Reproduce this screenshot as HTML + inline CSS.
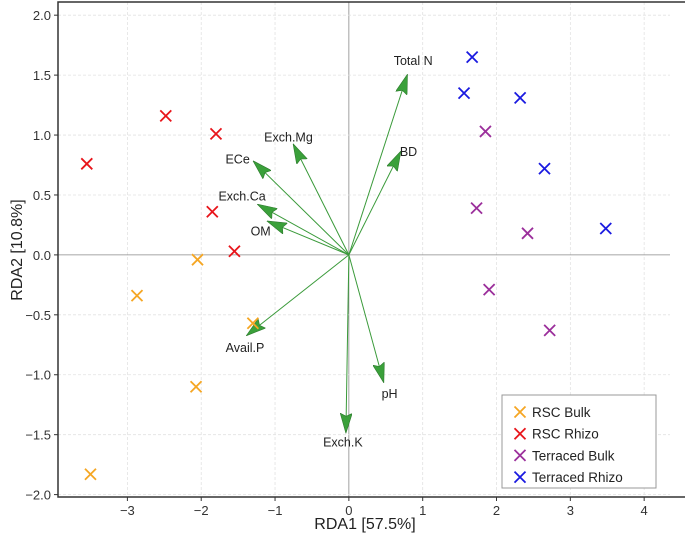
<!DOCTYPE html>
<html><head><meta charset="utf-8"><style>
body{margin:0;background:#fff}
svg{display:block;font-family:"Liberation Sans","DejaVu Sans",sans-serif}
</style></head><body>
<svg id="chart" width="685" height="540" viewBox="0 0 685 540" xmlns="http://www.w3.org/2000/svg">
<defs><marker id="ah" markerWidth="20" markerHeight="12" refX="19" refY="6" orient="auto" markerUnits="userSpaceOnUse"><path d="M0,0 L20,6 L0,12 L3,6 Z" fill="#3aa03a" stroke="#2d7a2d" stroke-width="0.6"/></marker></defs>
<g id="grid"></g>
<g id="axes"></g>
<g id="arrows"></g>
<g id="pts"></g>
<text x="365" y="529" font-size="16" text-anchor="middle" fill="#222">RDA1 [57.5%]</text>
<text transform="translate(22,250) rotate(-90)" font-size="16" text-anchor="middle" fill="#222">RDA2 [10.8%]</text>
<g>
<rect x="502" y="395" width="154" height="93" fill="#fff" stroke="#999" stroke-width="1"/>
</g>
<g id="legend-items"></g>
</svg>
<script>
const xTicks=[-3,-2,-1,0,1,2,3,4];
const yTicks=[-2.0,-1.5,-1.0,-0.5,0.0,0.5,1.0,1.5,2.0];
const groups=["RSC Bulk","RSC Rhizo","Terraced Bulk","Terraced Rhizo"];
const colors=["#f5a623","#e8141a","#9b2f9b","#1a1ae0"];
const rscBulkX=[-2.05,-2.87,-1.3,-2.07,-3.5], rscBulkY=[-0.04,-0.34,-0.57,-1.1,-1.83];
const rscRhizoX=[-3.55,-2.48,-1.8,-1.85,-1.55], rscRhizoY=[0.76,1.16,1.01,0.36,0.03];
const terBulkX=[1.85,1.73,2.42,1.9,2.72], terBulkY=[1.03,0.39,0.18,-0.29,-0.63];
const terRhizoX=[1.67,1.56,2.32,2.65,3.48], terRhizoY=[1.65,1.35,1.31,0.72,0.22];
const vecNames=["Total N","BD","Exch.Mg","ECe","Exch.Ca","OM","Avail.P","pH","Exch.K"];
const vecX=[0.79,0.7,-0.75,-1.29,-1.23,-1.1,-1.38,0.47,-0.04];
const vecY=[1.5,0.86,0.92,0.78,0.42,0.28,-0.67,-1.06,-1.48];
const labDx=[6,8,-5,-16,-16,-7,-2,6,-3], labDy=[-15,-1,-8,-3,-9,9,12,11,9];

const X0=58,X1=670,Y0=2,Y1=497,xmin=-3.94,xmax=4.35,ymin=-2.02,ymax=2.11;
const sx=v=>X0+(v-xmin)/(xmax-xmin)*(X1-X0);
const sy=v=>Y1-(v-ymin)/(ymax-ymin)*(Y1-Y0);
const NS="http://www.w3.org/2000/svg";
function mk(tag,attrs,parent,txt){const e=document.createElementNS(NS,tag);for(const k in attrs)e.setAttribute(k,attrs[k]);if(txt!==undefined)e.textContent=txt;parent.appendChild(e);return e;}
const grid=document.getElementById('grid'),axes=document.getElementById('axes');
xTicks.forEach(t=>{
 const l=mk('line',{x1:sx(t),x2:sx(t),y1:Y0,y2:Y1,stroke:t===0?'#888':'#e2e2e2','stroke-width':0.8,'stroke-dasharray':t===0?'':'3,2'},grid);
 
 
 mk('line',{x1:sx(t),x2:sx(t),y1:Y1,y2:Y1+4,stroke:'#333'},axes);
 const tx=mk('text',{x:sx(t),y:Y1+18,'font-size':13,'text-anchor':'middle',fill:'#333'},axes,t<0?'\u2212'+(-t):String(t));
 
 
});
yTicks.forEach(t=>{
 const l=mk('line',{x1:X0,x2:X1,y1:sy(t),y2:sy(t),stroke:t===0?'#888':'#e2e2e2','stroke-width':0.8,'stroke-dasharray':t===0?'':'3,2'},grid);
 
 
 mk('line',{x1:X0-4,x2:X0,y1:sy(t),y2:sy(t),stroke:'#333'},axes);
 const s=t.toFixed(1);
 const tx=mk('text',{x:X0-7,y:sy(t)+5,'font-size':13,'text-anchor':'end',fill:'#333'},axes,t<0?'\u2212'+s.slice(1):s);
 
 
});
mk('rect',{x:X0,y:Y0,width:X1-X0+20,height:Y1-Y0,fill:'none',stroke:'#333','stroke-width':1.5},axes);
const ar=document.getElementById('arrows');
vecNames.forEach((n,i)=>{
 const a=mk('line',{x1:sx(0),y1:sy(0),x2:sx(vecX[i]),y2:sy(vecY[i]),stroke:'#3a9a3a','stroke-width':1,'marker-end':'url(#ah)'},ar);
 
 
 const t=mk('text',{x:sx(vecX[i])+labDx[i],y:sy(vecY[i])+labDy[i]+5,'font-size':12.5,'text-anchor':'middle',fill:'#222'},ar,n);
 
 
});
const pts=document.getElementById('pts');
const sets=[[rscBulkX,rscBulkY],[rscRhizoX,rscRhizoY],[terBulkX,terBulkY],[terRhizoX,terRhizoY]];
function cross(cx,cy,c,p){const d=5.5;mk('path',{d:`M${cx-d},${cy-d}L${cx+d},${cy+d}M${cx-d},${cy+d}L${cx+d},${cy-d}`,stroke:c,'stroke-width':1.8,fill:'none'},p);}
sets.forEach((s,g)=>{s[0].forEach((x,i)=>{
 const m=mk('g',{},pts);
 
 
 cross(sx(x),sy(s[1][i]),colors[g],m);
});});
const lg=document.getElementById('legend-items');
groups.forEach((n,i)=>{
 const y=412+i*21.7;
 const e=mk('g',{},lg);
 
 
 cross(520,y,colors[i],e);
 mk('text',{x:532,y:y+5,'font-size':13.5,fill:'#222'},e,n);
});
</script>
</body></html>
